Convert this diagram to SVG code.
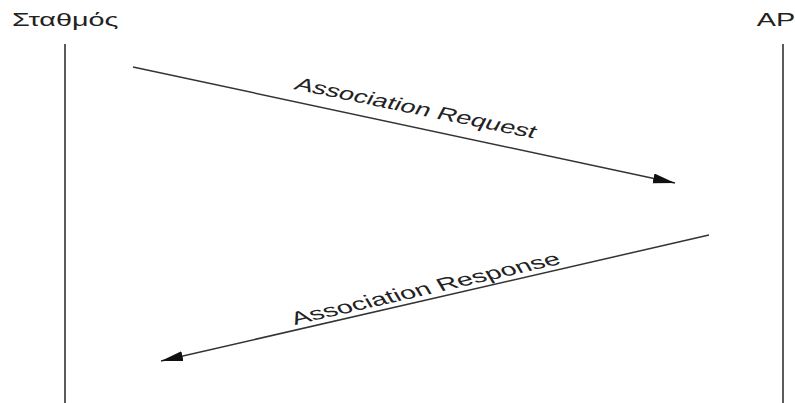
<svg xmlns="http://www.w3.org/2000/svg" width="795" height="403" viewBox="0 0 795 403">
  <style>
    .lbl { font-family: "Liberation Sans", Arial, sans-serif; font-size: 18px; fill: #222; }
    .life { stroke: #333; stroke-width: 1.6; fill: none; }
    .msg { stroke: #333; stroke-width: 1.5; fill: none; marker-end: url(#head); }
  </style>
  <defs>
    <marker id="head" markerUnits="userSpaceOnUse" markerWidth="24" markerHeight="12" refX="22" refY="5" orient="auto">
      <path d="M0,0 L22,5 L0,10 Z" fill="#111"/>
    </marker>
  </defs>
  <rect width="795" height="403" fill="#fff"/>

  <!-- lifelines -->
  <g id="station">
    <line class="life" x1="65" y1="44" x2="65" y2="403"/>
    <g transform="scale(1.6,1)">
      <text class="lbl" x="7.5" y="26">Σταθμός</text>
    </g>
  </g>
  <g id="ap">
    <line class="life" x1="783" y1="44" x2="783" y2="403" stroke="#555"/>
    <g transform="scale(1.6,1)">
      <text class="lbl" x="473" y="26">AP</text>
    </g>
  </g>

  <!-- messages -->
  <g id="connectors">
    <line class="msg" x1="133" y1="67" x2="675" y2="183"/>
    <line class="msg" x1="709" y1="235" x2="161" y2="361"/>
  </g>

  <!-- message labels (text stretched horizontally) -->
  <g id="labels">
    <g transform="scale(1.6,1)">
      <text class="lbl" transform="translate(183.1,89) rotate(18.2)" textLength="158" lengthAdjust="spacingAndGlyphs">Association Request</text>
      <text class="lbl" transform="translate(184.4,325) rotate(-20.2)">Association Response</text>
    </g>
  </g>
</svg>
